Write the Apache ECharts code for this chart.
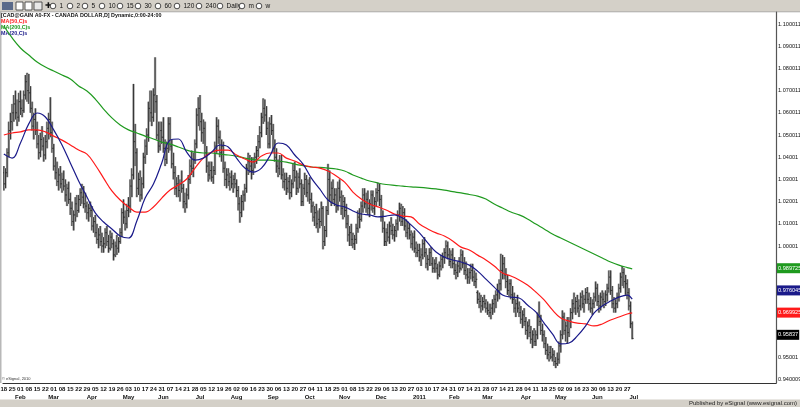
<!DOCTYPE html>
<html><head><meta charset="utf-8">
<script src="https://cdn.jsdelivr.net/npm/echarts@6/dist/echarts.min.js"></script>
<style>html,body{margin:0;padding:0;background:#fff}#c{width:800px;height:407px}</style>
</head><body><div id="c"></div><script>
// ---- data (prices in pips, x10000) ----
const startDate = '2010-01-18';
const totalSlots = 465;
const monthNames = ['Jan','Feb','Mar','Apr','May','Jun','Jul','Aug','Sep','Oct','Nov','Dec'];
const toolbarLabels = ['1','2','5','10','15','30','60','120','240','Daily','m','w'];
const yTickValues = [0.940009,0.95001,0.96001,0.97001,0.98001,0.99001,1.00001,1.01001,1.02001,1.03001,1.04001,1.050011,1.060011,1.070011,1.080011,1.090011,1.100011];
const yTickLabels = ['0.940009','0.95001','0.96001','0.97001','0.98001','0.99001','1.00001','1.01001','1.02001','1.03001','1.04001','1.050011','1.060011','1.070011','1.080011','1.090011','1.100011'];

const opens = [
10330,10280,10330,10420,10520, 10560,10600,10640,10600,10580, 10650,10620,10610,10680,10740, 10700,10690,10620,10540,10570,
10520,10460,10420,10480,10450, 10410,10470,10530,10570,10510, 10440,10360,10330,10290,10320, 10280,10300,10270,10230,10260,
10210,10170,10110,10140,10190, 10160,10210,10240,10220,10190, 10180,10150,10170,10160,10090, 10110,10060,10030,10050,10020,
10000,10010,10060,10020,9990, 10040,10010,9960,10000,9990, 10020,10060,10150,10130,10100, 10160,10180,10270,10320,10470,
10420,10260,10300,10230,10280, 10400,10450,10500,10620,10600, 10580,10680,10650,10500,10450, 10520,10490,10440,10390,10440,
10550,10450,10370,10330,10260, 10280,10250,10280,10260,10200, 10190,10230,10300,10360,10350, 10390,10460,10590,10620,10560,
10510,10530,10420,10360,10320, 10340,10310,10340,10450,10540, 10490,10420,10450,10350,10300, 10320,10290,10310,10280,10300,
10280,10250,10190,10150,10200, 10230,10260,10350,10380,10360, 10340,10380,10400,10430,10470, 10510,10580,10620,10590,10530,
10460,10550,10520,10440,10400, 10360,10350,10380,10320,10290, 10300,10260,10290,10240,10280, 10340,10310,10260,10310,10280,
10200,10260,10300,10240,10280, 10210,10180,10130,10150,10100, 10120,10110,10170,10020,10070, 10160,10300,10230,10260,10210,
10230,10180,10260,10220,10170, 10200,10160,10100,10050,10060, 10030,10010,10030,10080,10130, 10120,10180,10230,10190,10210,
10170,10190,10230,10170,10200, 10240,10250,10210,10130,10080, 10020,10060,10040,10090,10070, 10050,10070,10100,10140,10170,
10110,10150,10090,10060,10080, 10050,10010,10040,9990,9970, 9980,9950,9960,10010,9970, 9920,9940,9970,9920,9900,
9920,9900,9870,9910,9940, 9950,9970,10000,9960,9930, 9960,9920,9890,9880,9910, 9900,9960,9920,9890,9870,
9860,9880,9890,9860,9840, 9790,9760,9750,9730,9750, 9740,9720,9710,9700,9720, 9740,9760,9780,9800,9830,
9890,9920,9870,9840,9800, 9830,9780,9760,9720,9740, 9720,9700,9670,9690,9660, 9620,9640,9610,9580,9600,
9570,9600,9680,9660,9620, 9600,9560,9530,9510,9520, 9500,9510,9480,9470,9490, 9550,9600,9680,9620,9640,
9610,9660,9700,9740,9720, 9750,9720,9730,9770,9740, 9760,9790,9760,9740,9720, 9740,9770,9810,9750,9730,
9770,9760,9750,9780,9810, 9860,9800,9740,9720,9740, 9770,9810,9860,9880,9840, 9830,9790,9730,9650];
const highs = [
10360,10350,10440,10560,10600, 10640,10680,10700,10660,10690, 10700,10660,10700,10770,10780, 10775,10720,10650,10600,10620,
10560,10500,10510,10540,10490, 10500,10560,10600,10670,10560, 10460,10400,10380,10350,10360, 10330,10340,10300,10280,10290,
10240,10200,10160,10220,10230, 10230,10260,10280,10270,10240, 10200,10190,10200,10180,10130, 10140,10100,10080,10090,10060,
10040,10080,10090,10050,10070, 10060,10030,10020,10050,10040, 10080,10170,10210,10160,10190, 10220,10300,10350,10730,10550,
10440,10330,10340,10310,10420, 10480,10530,10650,10700,10700, 10710,10850,10680,10560,10560, 10560,10580,10480,10470,10580,
10580,10480,10420,10360,10310, 10320,10300,10340,10280,10240, 10260,10320,10390,10430,10420, 10480,10620,10670,10680,10600,
10570,10560,10450,10380,10380, 10380,10360,10470,10580,10570, 10520,10480,10470,10380,10350, 10350,10330,10340,10320,10330,
10300,10270,10220,10230,10250, 10280,10370,10420,10410,10400, 10400,10420,10450,10500,10540, 10600,10665,10660,10630,10560,
10580,10590,10550,10480,10440, 10390,10410,10410,10350,10330, 10330,10310,10320,10300,10370, 10380,10340,10330,10350,10300,
10280,10330,10320,10300,10310, 10240,10200,10180,10190,10160, 10170,10200,10180,10090,10180, 10370,10340,10290,10300,10260,
10260,10290,10300,10250,10230, 10220,10190,10140,10090,10100, 10060,10050,10100,10160,10170, 10200,10260,10260,10240,10250,
10210,10250,10250,10220,10260, 10285,10280,10230,10160,10110, 10080,10100,10110,10130,10100, 10090,10120,10160,10195,10190,
10180,10170,10120,10110,10100, 10070,10060,10070,10020,10010, 10010,9990,10030,10040,9990, 9960,9990,9995,9950,9940,
9950,9920,9930,9960,9970, 9990,10025,10020,9990,9980, 9990,9950,9920,9930,9950, 9985,9980,9950,9930,9900,
9900,9920,9920,9890,9880, 9800,9790,9780,9770,9780, 9760,9750,9740,9740,9760, 9780,9800,9830,9850,9965,
9960,9950,9900,9870,9850, 9850,9820,9790,9760,9780, 9750,9730,9710,9720,9680, 9660,9670,9640,9620,9630,
9620,9700,9750,9690,9650, 9620,9590,9560,9550,9550, 9540,9530,9500,9520,9570, 9620,9710,9700,9660,9680,
9680,9720,9760,9790,9770, 9780,9760,9790,9800,9780, 9810,9815,9790,9770,9760, 9790,9840,9830,9780,9790,
9800,9790,9800,9830,9890, 9890,9820,9770,9760,9790, 9830,9880,9910,9900,9870, 9850,9810,9750,9660];
const lows = [
10250,10260,10310,10400,10480, 10520,10560,10570,10540,10560, 10590,10580,10600,10660,10650, 10640,10600,10520,10480,10500,
10440,10390,10400,10430,10380, 10390,10440,10480,10490,10420, 10340,10300,10270,10250,10260, 10240,10250,10200,10180,10190,
10140,10090,10070,10110,10130, 10150,10180,10190,10170,10150, 10120,10110,10130,10070,10060, 10040,10010,9990,10000,9970,
9970,9990,10000,9970,9980, 9990,9935,9950,9960,9970, 10010,10040,10100,10070,10080, 10130,10150,10220,10300,10360,
10220,10230,10200,10210,10260, 10370,10410,10470,10560,10540, 10560,10600,10480,10420,10430, 10460,10420,10360,10370,10420,
10430,10350,10300,10230,10220, 10220,10200,10240,10170,10150, 10170,10210,10280,10320,10310, 10370,10440,10540,10520,10470,
10460,10400,10330,10290,10300, 10290,10280,10320,10420,10460, 10400,10380,10330,10270,10260, 10270,10250,10260,10240,10260,
10220,10160,10105,10130,10160, 10200,10240,10320,10330,10300, 10320,10350,10370,10400,10440, 10490,10550,10560,10500,10440,
10440,10500,10420,10380,10330, 10310,10320,10300,10260,10250, 10230,10240,10210,10220,10260, 10290,10230,10240,10260,10180,
10180,10230,10220,10200,10190, 10150,10110,10090,10080,10060, 10080,10090,9985,10000,10040, 10140,10200,10180,10190,10180,
10150,10160,10200,10140,10120, 10130,10080,10020,10000,10000, 9990,9982,10010,10060,10080, 10110,10150,10170,10150,10140,
10130,10160,10150,10140,10180, 10200,10180,10110,10060,10000, 10000,10020,10010,10050,10030, 10020,10040,10070,10110,10090,
10090,10070,10040,10030,10030, 9990,9980,9970,9950,9950, 9930,9910,9940,9950,9900, 9890,9910,9910,9880,9880,
9880,9850,9860,9890,9900, 9920,9950,9940,9910,9900, 9900,9870,9850,9860,9880, 9890,9900,9870,9850,9830,
9830,9850,9840,9820,9810, 9740,9720,9700,9710,9720, 9700,9690,9680,9670,9690, 9700,9720,9750,9760,9800,
9850,9850,9810,9780,9770, 9760,9740,9700,9680,9700, 9680,9650,9630,9640,9600, 9580,9590,9560,9540,9550,
9550,9580,9640,9600,9570, 9540,9510,9490,9480,9490, 9480,9460,9450,9460,9470, 9520,9580,9600,9570,9560,
9590,9630,9670,9700,9690, 9700,9680,9710,9720,9700, 9740,9740,9710,9700,9690, 9720,9750,9730,9700,9710,
9730,9720,9730,9750,9790, 9780,9720,9700,9700,9720, 9750,9790,9820,9810,9780, 9760,9710,9630,9580];
const closes = [
10280,10330,10420,10520,10560, 10600,10640,10600,10580,10650, 10620,10610,10680,10740,10700, 10690,10620,10540,10570,10520,
10460,10420,10480,10450,10410, 10470,10530,10570,10510,10440, 10360,10330,10290,10320,10280, 10300,10270,10230,10260,10210,
10170,10110,10140,10190,10160, 10210,10240,10220,10190,10180, 10150,10170,10160,10090,10110, 10060,10030,10050,10020,10000,
10010,10060,10020,9990,10040, 10010,9960,10000,9990,10020, 10060,10150,10130,10100,10160, 10180,10270,10320,10470,10420,
10260,10300,10230,10280,10400, 10450,10500,10620,10600,10580, 10680,10650,10500,10450,10520, 10490,10440,10390,10440,10550,
10450,10370,10330,10260,10280, 10250,10280,10260,10200,10190, 10230,10300,10360,10350,10390, 10460,10590,10620,10560,10510,
10530,10420,10360,10320,10340, 10310,10340,10450,10540,10490, 10420,10450,10350,10300,10320, 10290,10310,10280,10300,10280,
10250,10190,10150,10200,10230, 10260,10350,10380,10360,10340, 10380,10400,10430,10470,10510, 10580,10620,10590,10530,10460,
10550,10520,10440,10400,10360, 10350,10380,10320,10290,10300, 10260,10290,10240,10280,10340, 10310,10260,10310,10280,10200,
10260,10300,10240,10280,10210, 10180,10130,10150,10100,10120, 10110,10170,10020,10070,10160, 10300,10230,10260,10210,10230,
10180,10260,10220,10170,10200, 10160,10100,10050,10060,10030, 10010,10030,10080,10130,10120, 10180,10230,10190,10210,10170,
10190,10230,10170,10200,10240, 10250,10210,10130,10080,10020, 10060,10040,10090,10070,10050, 10070,10100,10140,10170,10110,
10150,10090,10060,10080,10050, 10010,10040,9990,9970,9980, 9950,9960,10010,9970,9920, 9940,9970,9920,9900,9920,
9900,9870,9910,9940,9950, 9970,10000,9960,9930,9960, 9920,9890,9880,9910,9900, 9960,9920,9890,9870,9860,
9880,9890,9860,9840,9850, 9760,9750,9730,9750,9740, 9720,9710,9700,9720,9740, 9760,9780,9800,9830,9890,
9920,9870,9840,9800,9830, 9780,9760,9720,9740,9720, 9700,9670,9690,9660,9620, 9640,9610,9580,9600,9570,
9600,9680,9660,9620,9600, 9560,9530,9510,9520,9500, 9510,9480,9470,9490,9550, 9600,9680,9620,9640,9610,
9660,9700,9740,9720,9750, 9720,9730,9770,9740,9760, 9790,9760,9740,9720,9740, 9770,9810,9750,9730,9770,
9760,9750,9780,9810,9860, 9800,9740,9720,9740,9770, 9810,9860,9880,9840,9830, 9790,9730,9650,9583.7];

// moving averages read at each Monday (week 0..75) plus the last bar
const ma200 = [1.0991,1.0937,1.0892,1.0860,1.0829,1.0806,1.0788,1.0770,1.0752,1.0721,1.0698,1.0662,1.0617,1.0577,1.0545,1.0523,1.0509,1.0495,1.0482,1.0468,
1.0459,1.0446,1.0432,1.0423,1.0419,1.0419,1.0414,1.0410,1.0405,1.0396,1.0390,1.0387,1.0387,1.0383,1.0378,1.0369,1.0362,1.0356,1.0354,1.0351,
1.0347,1.0338,1.0320,1.0306,1.0293,1.0284,1.0277,1.0273,1.0270,1.0266,1.0264,1.0261,1.0257,1.0252,1.0245,1.0239,1.0232,1.0225,1.0212,1.0189,
1.0171,1.0153,1.0140,1.0122,1.0099,1.0077,1.0054,1.0036,1.0018,1.0000,0.9982,0.9964,0.9946,0.9928,0.9914,0.9903,0.989725];
const ma50 = [1.0500,1.0509,1.0514,1.0523,1.0523,1.0514,1.0495,1.0477,1.0455,1.0432,1.0414,1.0365,1.0306,1.0248,1.0207,1.0176,1.0153,1.0153,1.0176,1.0216,
1.0252,1.0275,1.0302,1.0351,1.0396,1.0423,1.0432,1.0432,1.0410,1.0392,1.0378,1.0405,1.0419,1.0419,1.0396,1.0383,1.0365,1.0356,1.0351,1.0338,
1.0315,1.0288,1.0243,1.0212,1.0189,1.0176,1.0162,1.0144,1.0135,1.0131,1.0099,1.0077,1.0059,1.0045,1.0023,0.9995,0.9982,0.9959,0.9937,0.9910,
0.9878,0.9865,0.9847,0.9824,0.9793,0.9757,0.9712,0.9676,0.9662,0.9653,0.9649,0.9640,0.9649,0.9667,0.9680,0.9694,0.969925];
const ma20 = [1.0414,1.0396,1.0464,1.0550,1.0599,1.0581,1.0523,1.0455,1.0374,1.0293,1.0221,1.0149,1.0108,1.0077,1.0045,1.0036,1.0113,1.0216,1.0279,1.0374,
1.0477,1.0482,1.0423,1.0387,1.0396,1.0423,1.0455,1.0446,1.0396,1.0351,1.0333,1.0351,1.0405,1.0464,1.0455,1.0410,1.0369,1.0306,1.0257,1.0207,
1.0185,1.0176,1.0158,1.0144,1.0140,1.0131,1.0135,1.0140,1.0126,1.0095,1.0059,1.0014,0.9973,0.9950,0.9937,0.9928,0.9914,0.9887,0.9851,0.9815,
0.9779,0.9770,0.9766,0.9734,0.9703,0.9653,0.9604,0.9559,0.9563,0.9595,0.9640,0.9698,0.9730,0.9752,0.9770,0.9779,0.976045];

// ---- build ----
function buildDates(){
  const out=[]; const d=new Date(startDate+'T00:00:00Z');
  while(out.length<totalSlots){const wd=d.getUTCDay(); if(wd!==0&&wd!==6) out.push(d.toISOString().slice(0,10)); d.setUTCDate(d.getUTCDate()+1);}
  return out;
}
const dates = buildDates();
const nData = closes.length;
const ohlc = closes.map((c,i)=>[i, opens[i]/1e4, highs[i]/1e4, lows[i]/1e4, c/1e4]);
const maPoints = arr => arr.map((v,k)=>[k<arr.length-1 ? dates[5*k] : dates[nData-1], v]);
const FONT = 'Liberation Sans';
const NARROW = '"Liberation Sans Narrow", "Arial Narrow", "Liberation Sans"';
const TB = '#d4d0c8';

const chart = echarts.init(document.getElementById('c'), null, {renderer:'canvas'});

const graphics = [
  {type:'rect', shape:{x:0,y:0,width:800,height:12}, style:{fill:TB}, silent:true},
  {type:'rect', shape:{x:0,y:11.5,width:800,height:0.8}, style:{fill:'#a0a0a0'}, silent:true},
  {type:'rect', shape:{x:2,y:2,width:11,height:8}, style:{fill:'#5a6a8a'}, silent:true},
  {type:'rect', shape:{x:16,y:2,width:7,height:8}, style:{fill:'#fff', stroke:'#333', lineWidth:0.8}, silent:true},
  {type:'rect', shape:{x:25,y:2,width:7,height:8}, style:{fill:'#fff', stroke:'#333', lineWidth:0.8}, silent:true},
  {type:'rect', shape:{x:34,y:2,width:8,height:8}, style:{fill:'#e8e8e8', stroke:'#333', lineWidth:0.8}, silent:true},
  {type:'text', x:45, y:6, style:{text:'✚', fontSize:8, fill:'#111', textVerticalAlign:'middle'}, silent:true},
  {type:'rect', shape:{x:0,y:12,width:1.5,height:371}, style:{fill:'#b8b8b8'}, silent:true},
  {type:'rect', shape:{x:0,y:399.5,width:800,height:8}, style:{fill:TB}, silent:true},
  {type:'text', x:797, y:403.5, style:{text:'Published by eSignal (www.esignal.com)', fontSize:6, fontFamily:FONT, fill:'#222', textAlign:'right', textVerticalAlign:'middle'}, silent:true},
  {type:'text', x:2, y:379, style:{text:'© eSignal, 2010', fontSize:4, fontFamily:FONT, fill:'#333', textVerticalAlign:'middle'}, silent:true},
  {type:'text', x:1, y:15.5, style:{text:'[CAD@GAIN A0-FX - CANADA DOLLAR,D] Dynamic,0:00-24:00', fontSize:5.4, fontWeight:'bold', fontFamily:NARROW, fill:'#111', textVerticalAlign:'middle'}, silent:true},
  {type:'text', x:1, y:22, style:{text:'MA(50,C)s', fontSize:5.4, fontWeight:'bold', fontFamily:NARROW, fill:'#ff1a1a', textVerticalAlign:'middle'}, silent:true},
  {type:'text', x:1, y:28, style:{text:'MA(200,C)s', fontSize:5.4, fontWeight:'bold', fontFamily:NARROW, fill:'#1f9a1f', textVerticalAlign:'middle'}, silent:true},
  {type:'text', x:1, y:34, style:{text:'MA(20,C)s', fontSize:5.4, fontWeight:'bold', fontFamily:NARROW, fill:'#1a1a8a', textVerticalAlign:'middle'}, silent:true}
];
const tbIconX = [53,70,85,102,120,138,158,177,199,220,242,259];
toolbarLabels.forEach((t,k)=>{
  graphics.push({type:'circle', shape:{cx:tbIconX[k], cy:6, r:2.8}, style:{fill:'#fff', stroke:'#222', lineWidth:0.8}, silent:true});
  graphics.push({type:'text', x:tbIconX[k]+6.5, y:6.5, style:{text:t, fontSize:6.5, fontFamily:FONT, fill:'#111', textVerticalAlign:'middle'}, silent:true});
});

const option = {
  animation:false,
  backgroundColor:'#fff',
  grid:{left:3, right:24, top:12, bottom:24, containLabel:false, outerBoundsMode:'none'},
  xAxis:[{
    type:'category', data:dates, boundaryGap:true,
    axisLine:{show:true, lineStyle:{color:'#333', width:1.2}},
    axisTick:{show:false}, splitLine:{show:false},
    axisLabel:{interval:(i,v)=> i<nData && new Date(v+'T00:00:00Z').getUTCDay()===1,
      formatter:v=>v.slice(8,10), fontSize:6, fontFamily:FONT, fontWeight:'bold', color:'#111', margin:3, hideOverlap:false}
  },{
    type:'category', data:dates, position:'bottom', offset:8, boundaryGap:true,
    axisLine:{show:false}, axisTick:{show:false}, splitLine:{show:false},
    axisLabel:{interval:(i,v)=> i>0 && i<=nData && v.slice(5,7)!==dates[i-1].slice(5,7),
      formatter:v=> v.slice(5,7)==='01' ? v.slice(0,4) : monthNames[+v.slice(5,7)-1],
      fontSize:6, fontFamily:FONT, fontWeight:'bold', color:'#111', margin:3, hideOverlap:false}
  }],
  yAxis:{type:'value', position:'right', min:0.9383, max:1.1054,
    axisLine:{show:true, lineStyle:{color:'#555', width:1.2}}, axisTick:{show:false}, splitLine:{show:false},
    axisLabel:{customValues:yTickValues, hideOverlap:false,
      formatter:v=>{let b=0;for(let k=1;k<yTickValues.length;k++){if(Math.abs(yTickValues[k]-v)<Math.abs(yTickValues[b]-v))b=k;}return yTickLabels[b];},
      fontSize:5.6, fontFamily:NARROW, color:'#111', margin:2}
  },
  graphic:graphics,
  series:[
    {type:'custom', name:'CAD', data:ohlc, encode:{x:0, y:[1,2,3,4]}, z:2, clip:true,
      renderItem:(params, api)=>{
        const i=api.value(0);
        const pH=api.coord([i, api.value(2)]), pL=api.coord([i, api.value(3)]);
        const pO=api.coord([i, api.value(1)]), pC=api.coord([i, api.value(4)]);
        const x=pH[0];
        const st={stroke:'#2a2a2a', lineWidth:0.9};
        return {type:'group', children:[
          {type:'rect', shape:{x:x-1.2, y:pH[1], width:2.4, height:pL[1]-pH[1]}, style:{fill:'#a0a0a0'}},
          {type:'line', shape:{x1:x, y1:pH[1], x2:x, y2:pL[1]}, style:st},
          {type:'line', shape:{x1:x-1.4, y1:pO[1], x2:x, y2:pO[1]}, style:st},
          {type:'line', shape:{x1:x, y1:pC[1], x2:x+1.4, y2:pC[1]}, style:st}
        ]};
      }
    },
    {type:'line', name:'MA200', data:maPoints(ma200), smooth:0.4, symbol:'none', z:5,
      lineStyle:{color:'#1f9a1f', width:1.2}},
    {type:'line', name:'MA50', data:maPoints(ma50), smooth:0.4, symbol:'none', z:5,
      lineStyle:{color:'#ff1a1a', width:1.2}},
    {type:'line', name:'MA20', data:maPoints(ma20), smooth:0.4, symbol:'none', z:5,
      lineStyle:{color:'#1a1a8a', width:1.2}},
    {type:'line', name:'labels', data:[], z:8, silent:true,
      markLine:{silent:true, symbol:['none','none'], animation:false,
        lineStyle:{color:'rgba(0,0,0,0)', width:1, type:'solid'},
        label:{show:true, position:'end', distance:1, color:'#fff', fontSize:5.6, fontFamily:NARROW, padding:[2,1,1,1], lineHeight:7},
        data:[
          {yAxis:ma200[ma200.length-1], label:{formatter:String(ma200[ma200.length-1]), backgroundColor:'#1f9a1f'}},
          {yAxis:ma20[ma20.length-1], label:{formatter:String(ma20[ma20.length-1]), backgroundColor:'#1a1a8a'}},
          {yAxis:ma50[ma50.length-1], label:{formatter:String(ma50[ma50.length-1]), backgroundColor:'#ff1a1a'}},
          {yAxis:closes[nData-1]/1e4, label:{formatter:(closes[nData-1]/1e4).toFixed(5), backgroundColor:'#000'}}
        ]}}
  ]
};
chart.setOption(option);
</script></body></html>
